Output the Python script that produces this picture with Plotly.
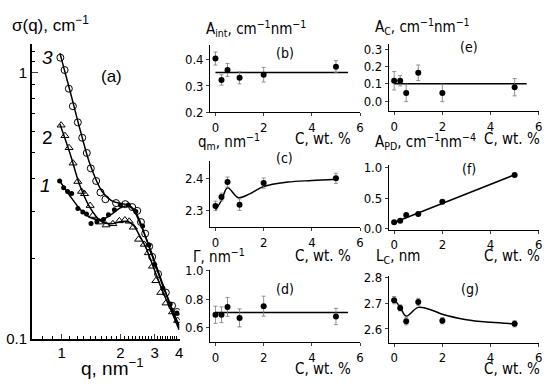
import plotly.graph_objects as go

# ---------------- Panel (a) data: sigma(q) ----------------
q1 = [0.977, 1.024, 1.073, 1.125, 1.211, 1.284, 1.341, 1.414, 1.517, 1.638, 1.737, 1.864, 2.0, 2.2, 2.4, 2.6, 2.8, 3.0, 3.3, 3.6, 3.9]
s1 = [0.391, 0.369, 0.357, 0.351, 0.308, 0.299, 0.294, 0.271, 0.275, 0.280, 0.292, 0.305, 0.318, 0.318, 0.300, 0.265, 0.225, 0.190, 0.155, 0.135, 0.125]
q2 = [0.994, 1.04, 1.092, 1.145, 1.211, 1.265, 1.31, 1.40, 1.445, 1.563, 1.69, 1.83, 1.976, 2.11, 2.22, 2.33, 2.48, 2.65, 2.78, 2.92, 3.04, 3.22, 3.43, 3.70, 3.93]
s2 = [0.633, 0.578, 0.521, 0.456, 0.389, 0.357, 0.350, 0.316, 0.290, 0.274, 0.267, 0.270, 0.277, 0.279, 0.276, 0.262, 0.236, 0.226, 0.210, 0.187, 0.165, 0.149, 0.136, 0.126, 0.117]
q3 = [0.985, 1.036, 1.089, 1.142, 1.211, 1.275, 1.346, 1.411, 1.503, 1.581, 1.677, 1.901, 2.12, 2.30, 2.44, 2.55, 2.68, 2.81, 2.91, 3.12, 3.42, 3.68, 3.91]
s3 = [1.135, 1.02, 0.868, 0.746, 0.649, 0.568, 0.498, 0.436, 0.391, 0.354, 0.334, 0.323, 0.320, 0.312, 0.302, 0.274, 0.248, 0.222, 0.203, 0.175, 0.149, 0.133, 0.126]
# fit curves
qf = [0.98, 1.1, 1.25, 1.4, 1.6, 1.8, 2.0, 2.2, 2.35, 2.5, 2.7, 3.0, 3.3, 3.6, 4.0]
f1 = [0.39, 0.345, 0.305, 0.285, 0.28, 0.293, 0.31, 0.315, 0.302, 0.275, 0.24, 0.192, 0.158, 0.134, 0.11]
f2 = [0.64, 0.50, 0.37, 0.31, 0.275, 0.27, 0.275, 0.275, 0.265, 0.245, 0.22, 0.18, 0.15, 0.13, 0.108]
f3 = [1.18, 0.86, 0.60, 0.45, 0.36, 0.33, 0.322, 0.318, 0.305, 0.28, 0.24, 0.195, 0.16, 0.135, 0.112]

# ---------------- Panels (b)-(g) data vs concentration ----------------
C = [0, 0.25, 0.5, 1, 2, 5]
A_int = [0.405, 0.323, 0.361, 0.331, 0.343, 0.374]
A_int_err = [0.025, 0.02, 0.025, 0.023, 0.028, 0.023]
A_int_fit = [0.352, 0.352]
q_m = [2.313, 2.341, 2.388, 2.317, 2.385, 2.40]
q_m_err = [0.015, 0.012, 0.016, 0.018, 0.016, 0.016]
C_fit_qm = [0, 0.25, 0.5, 0.95, 1.4, 2, 3, 4, 5]
q_m_fit = [2.30, 2.33, 2.37, 2.339, 2.35, 2.374, 2.388, 2.393, 2.397]
Gamma = [0.690, 0.690, 0.745, 0.668, 0.750, 0.678]
Gamma_err = [0.06, 0.055, 0.066, 0.063, 0.07, 0.057]
Gamma_fit = [0.705, 0.705]
A_C = [0.117, 0.117, 0.047, 0.163, 0.047, 0.08]
A_C_err = [0.053, 0.03, 0.05, 0.045, 0.05, 0.05]
A_C_fit = [0.1, 0.1]
A_PD = [0.104, 0.129, 0.222, 0.238, 0.44, 0.875]
A_PD_err = [0.015, 0.015, 0.015, 0.015, 0.015, 0.015]
C_fit_lin = [0, 5]
A_PD_fit = [0.10, 0.88]
L_C = [2.712, 2.682, 2.630, 2.705, 2.632, 2.620]
L_C_err = [0.014, 0.012, 0.014, 0.014, 0.012, 0.012]
C_fit_lc = [0, 0.25, 0.5, 1, 1.6, 2, 3, 4, 5]
L_C_fit = [2.715, 2.685, 2.65, 2.684, 2.672, 2.657, 2.636, 2.626, 2.62]
C_flat = [0, 5.5]

W, H = 550, 390
def px(x):
    return x / W
def py(y):
    return 1 - y / H

FONT = "Liberation Sans, Arial, sans-serif"
NARROW = "Liberation Sans Narrow, DejaVu Sans Condensed, Liberation Sans, sans-serif"

fig = go.Figure()

# ---- Panel (a)
for fy in (f1, f2, f3):
    fig.add_trace(go.Scatter(x=qf, y=fy, mode="lines", line=dict(color="black", width=1.5, shape="spline"),
                             xaxis="x", yaxis="y", showlegend=False))
fig.add_trace(go.Scatter(x=q1, y=s1, mode="markers", marker=dict(symbol="circle", size=5, color="black"), xaxis="x", yaxis="y", showlegend=False))
fig.add_trace(go.Scatter(x=q2, y=s2, mode="markers", marker=dict(symbol="triangle-up-open", size=7, color="black", line=dict(width=1)), xaxis="x", yaxis="y", showlegend=False))
fig.add_trace(go.Scatter(x=q3, y=s3, mode="markers", marker=dict(symbol="circle-open", size=7, color="black", line=dict(width=1)), xaxis="x", yaxis="y", showlegend=False))

# ---- Right panels
def add_panel(n, y, err, fx, fy):
    xa = "x%d" % n
    ya = "y%d" % n
    fig.add_trace(go.Scatter(x=fx, y=fy, mode="lines", line=dict(color="black", width=1.5, shape="spline"), xaxis=xa, yaxis=ya, showlegend=False))
    fig.add_trace(go.Scatter(x=C, y=y, mode="markers", marker=dict(size=6, color="black"),
                             error_y=dict(type="data", array=err, color="#777777", thickness=0.8, width=2),
                             xaxis=xa, yaxis=ya, showlegend=False))

add_panel(2, A_int, A_int_err, C_flat, A_int_fit)
add_panel(3, q_m, q_m_err, C_fit_qm, q_m_fit)
add_panel(4, Gamma, Gamma_err, C_flat, Gamma_fit)
add_panel(5, A_C, A_C_err, C_flat, A_C_fit)
add_panel(6, A_PD, A_PD_err, C_fit_lin, A_PD_fit)
add_panel(7, L_C, L_C_err, C_fit_lc, L_C_fit)

lay = dict(width=W, height=H, margin=dict(l=0, r=0, t=0, b=0), plot_bgcolor="white", paper_bgcolor="white",
           font=dict(family=FONT, color="black"))

# panel (a) axes
qminor = [round(0.8 + 0.1 * i, 1) for i in range(33)]
qminor = [v for v in qminor if v not in (1.0, 2.0, 3.0, 4.0)]
sminor = [0.2, 0.3, 0.4, 0.5, 0.6, 0.7, 0.8, 0.9, 1.1, 1.2]
lay["xaxis"] = dict(type="log", domain=[px(32), px(181)], range=[-0.153, 0.605], anchor="y",
                    tickvals=[1, 2, 3, 4], ticktext=["1", "2", "3", "4"], ticks="inside", ticklen=5,
                    showline=True, linecolor="black", linewidth=1.5, showgrid=False, zeroline=False,
                    tickfont=dict(size=15, family=FONT),
                    minor=dict(tickvals=qminor, ticks="inside", ticklen=3, tickcolor="black", showgrid=False))
lay["yaxis"] = dict(type="log", domain=[py(345), py(38)], range=[-1, 0.108], anchor="x",
                    tickvals=[0.1, 1], ticktext=["0.1", "1"], ticks="inside", ticklen=6,
                    showline=True, linecolor="black", linewidth=1.5, showgrid=False, zeroline=False,
                    tickfont=dict(size=15, family=FONT),
                    minor=dict(tickvals=sminor, ticks="inside", ticklen=3, tickcolor="black", showgrid=False))

col1 = [px(211.7), px(362.7)]
col2 = [px(391.7), px(542.7)]
panels = {
    2: (col1, [py(109.3), py(40)], [0.2, 0.455], [0.2, 0.3, 0.4]),
    3: (col1, [py(229.3), py(160)], [2.245, 2.455], [2.3, 2.4]),
    4: (col1, [py(348.3), py(274)], [0.5, 1.0], [0.6, 0.8, 1.0]),
    5: (col2, [py(108.3), py(38.3)], [-0.058, 0.33], [0.0, 0.1, 0.2, 0.3]),
    6: (col2, [py(231.7), py(164.3)], [-0.02, 1.04], [0.0, 0.5, 1.0]),
    7: (col2, [py(349.3), py(280)], [2.546, 2.805], [2.6, 2.7, 2.8]),
}
for n, (xd, yd, yr, yt) in panels.items():
    lay["xaxis%d" % n] = dict(domain=xd, range=[-0.22, 6.0], anchor="y%d" % n, tickvals=[0, 2, 4, 6],
                              ticks="outside", ticklen=3, showline=True, linecolor="black", linewidth=1,
                              showgrid=False, zeroline=False, tickfont=dict(size=13, family=NARROW))
    lay["yaxis%d" % n] = dict(domain=yd, range=yr, anchor="x%d" % n, tickvals=yt, tickformat=".1f",
                              ticks="outside", ticklen=3, showline=True, linecolor="black", linewidth=1,
                              showgrid=False, zeroline=False, tickfont=dict(size=13, family=NARROW))

fig.update_layout(**lay)

anns = []
def ann(x, y, text, size, family=FONT, xanchor="center", italic=False):
    if italic:
        text = "<i>" + text + "</i>"
    anns.append(dict(x=px(x), y=py(y), xref="paper", yref="paper", text=text, showarrow=False,
                     xanchor=xanchor, yanchor="middle", font=dict(size=size, family=family, color="black")))

# panel (a) texts
ann(10, 18, "σ(q), cm<sup>−1</sup>", 17, xanchor="left")
ann(80, 374, "q, nm<sup>−1</sup>", 19, xanchor="left")
ann(112, 72, "(a)", 17)
ann(48, 53, "3", 19, italic=True)
ann(48, 136, "2", 19)
ann(46, 186, "1", 19, italic=True)

# right panel titles
ann(205, 22, "A<sub>int</sub>, cm<sup>−1</sup>nm<sup>−1</sup>", 15, NARROW, xanchor="left")
ann(287, 48, "(b)", 14, NARROW)
ann(356, 137, "C, wt. %", 15, NARROW, xanchor="right")
ann(197, 140, "q<sub>m</sub>, nm<sup>−1</sup>", 15, NARROW, xanchor="left")
ann(287, 157, "(c)", 14, NARROW)
ann(356, 259, "C, wt. %", 15, NARROW, xanchor="right")
ann(192, 259, "Γ, nm<sup>−1</sup>", 15, NARROW, xanchor="left")
ann(287, 293, "(d)", 14, NARROW)
ann(356, 376, "C, wt. %", 15, NARROW, xanchor="right")

ann(376, 20, "A<sub>C</sub>, cm<sup>−1</sup>nm<sup>−1</sup>", 15, NARROW, xanchor="left")
ann(472, 42, "(e)", 14, NARROW)
ann(546, 137, "C, wt. %", 15, NARROW, xanchor="right")
ann(376, 140, "A<sub>PD</sub>, cm<sup>−1</sup>nm<sup>−4</sup>", 15, NARROW, xanchor="left")
ann(472, 168, "(f)", 14, NARROW)
ann(546, 259, "C, wt. %", 15, NARROW, xanchor="right")
ann(377, 259, "L<sub>C</sub>, nm", 15, NARROW, xanchor="left")
ann(473, 293, "(g)", 14, NARROW)
ann(546, 376, "C, wt. %", 15, NARROW, xanchor="right")

fig.update_layout(annotations=anns)
fig.write_html("out.html", config={"displayModeBar": False},
               post_script="document.body.style.margin='0';document.body.style.overflow='hidden';")
